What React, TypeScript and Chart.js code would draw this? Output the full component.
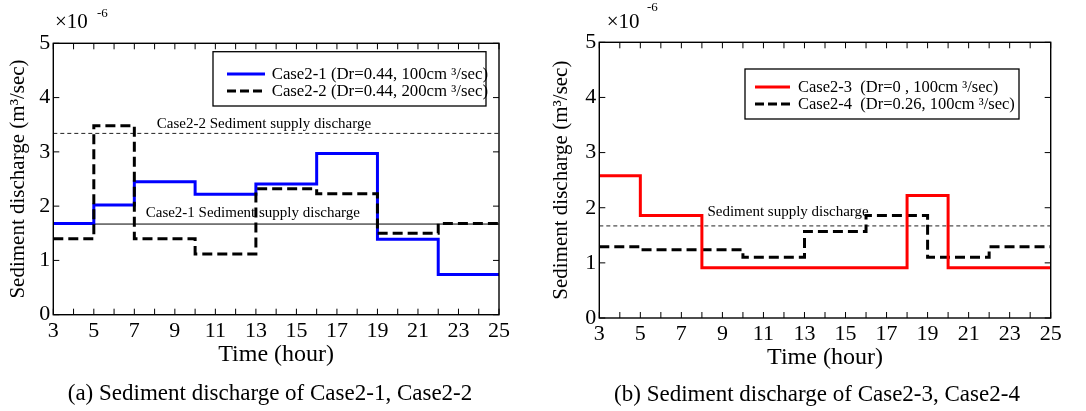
import React, { useEffect, useRef } from "react";
import { Chart, registerables } from "chart.js";

Chart.register(...registerables);

const FONT = '"Liberation Serif", "Times New Roman", serif';

// ---------- data ----------
const hoursCase21 = [3, 5, 7, 10, 13, 16, 19, 22, 25];
const case21Values = [1.68, 2.02, 2.45, 2.22, 2.41, 2.97, 1.39, 0.74];
const hoursCase22 = [3, 5, 7, 10, 13, 16, 19, 22, 25];
const case22Values = [1.4, 3.48, 1.4, 1.12, 2.32, 2.23, 1.5, 1.68];
const hoursCase23 = [3, 5, 8, 18, 20, 25];
const case23Values = [2.58, 1.86, 0.91, 2.22, 0.91];
const hoursCase24 = [3, 5, 10, 13, 16, 19, 22, 25];
const case24Values = [1.29, 1.24, 1.1, 1.57, 1.86, 1.1, 1.29];
const supplyCase21 = 1.67;
const supplyCase22 = 3.34;
const supplyPanelB = 1.67;
const timeRange = [3, 25];
const dischargeRange = [0, 5];
const xTickValues = [3, 5, 7, 9, 11, 13, 15, 17, 19, 21, 23, 25];
const yTickValues = [0, 1, 2, 3, 4, 5];

function stepPoints(breaks: number[], values: number[]) {
  return breaks.map((x, i) => ({ x, y: values[Math.min(i, values.length - 1)] }));
}
function flatLine(y: number) {
  return timeRange.map((x) => ({ x, y }));
}

type Spec = any;

const panelA: Spec = {
  layout: { top: 43.3, right: 44, yWidth: 53.3, xHeight: 96.3, yTitlePad: 5.4, xTitlePad: 41.6 },
  datasets: [
    { label: "Case2-2 (Dr=0.44, 200cm ³/sec)", data: stepPoints(hoursCase22, case22Values), borderColor: "#000", borderWidth: 3, borderDash: [10, 5], stepped: "before", order: 1 },
    { label: "Case2-1 (Dr=0.44, 100cm ³/sec)", data: stepPoints(hoursCase21, case21Values), borderColor: "#0000ff", borderWidth: 3, borderDash: [], stepped: "before", order: 2 },
    { label: "Case2-1 supply", data: flatLine(supplyCase21), borderColor: "#000", borderWidth: 1, borderDash: [], order: 3 },
    { label: "Case2-2 supply", data: flatLine(supplyCase22), borderColor: "#222", borderWidth: 1, borderDash: [4, 3], order: 3 },
  ],
  legend: { box: [213, 51.7, 486, 106], lineX: [227, 265], textX: 271.7, rowsY: [74, 91], fontSize: 16.8, items: [1, 0] },
  supplyLabels: [
    { text: "Case2-2 Sediment supply discharge", x: 13.4, value: supplyCase22, dy: -9.7 },
    { text: "Case2-1 Sediment supply discharge", x: 12.85, value: supplyCase21, dy: -11.2 },
  ],
  exponent: { x: 55, y: 22.7, supX: 97, supY: 13.5 },
  caption: { text: "(a) Sediment discharge of Case2-1, Case2-2", x: 270, y: 394 },
};

const panelB: Spec = {
  layout: { top: 42.3, right: 35.3, yWidth: 56.3, xHeight: 93, yTitlePad: 6.1, xTitlePad: 38.6 },
  datasets: [
    { label: "Case2-3  (Dr=0 , 100cm ³/sec)", data: stepPoints(hoursCase23, case23Values), borderColor: "#ff0000", borderWidth: 3, borderDash: [], stepped: "before", order: 1 },
    { label: "Case2-4  (Dr=0.26, 100cm ³/sec)", data: stepPoints(hoursCase24, case24Values), borderColor: "#000", borderWidth: 3, borderDash: [10, 5], stepped: "before", order: 2 },
    { label: "Supply", data: flatLine(supplyPanelB), borderColor: "#222", borderWidth: 1, borderDash: [4, 3], order: 3 },
  ],
  legend: { box: [202, 69, 476, 119], lineX: [212, 247], textX: 255, rowsY: [87, 104], fontSize: 16.5, items: [0, 1] },
  supplyLabels: [{ text: "Sediment supply discharge", x: 12.2, value: supplyPanelB, dy: -13.5 }],
  exponent: { x: 63.7, y: 22.7, supX: 104, supY: 7.5 },
  caption: { text: "(b) Sediment discharge of Case2-3, Case2-4", x: 274, y: 395 },
};

function makeDecor(spec: Spec) {
  return {
    id: "decor",
    afterDraw(chart: any) {
      const ctx = chart.ctx as CanvasRenderingContext2D;
      const { left, right, top, bottom } = chart.chartArea;
      const xs = chart.scales.x;
      const ys = chart.scales.y;
      ctx.save();
      ctx.strokeStyle = "#000";
      ctx.setLineDash([]);
      ctx.lineWidth = 1;
      const seg = (a: number, b: number, c: number, d: number) => {
        ctx.beginPath();
        ctx.moveTo(a, b);
        ctx.lineTo(c, d);
        ctx.stroke();
      };
      for (let h = timeRange[0]; h <= timeRange[1]; h++) {
        const px = xs.getPixelForValue(h);
        seg(px, bottom, px, bottom - 6);
        seg(px, top, px, top + 6);
      }
      for (const v of yTickValues) {
        const py = ys.getPixelForValue(v);
        seg(left, py, left + 6, py);
        seg(right, py, right - 6, py);
      }
      ctx.lineWidth = 1.4;
      ctx.strokeRect(left, top, right - left, bottom - top);

      // supply labels
      ctx.fillStyle = "#000";
      ctx.font = `15px ${FONT}`;
      ctx.textAlign = "center";
      ctx.textBaseline = "middle";
      for (const s of spec.supplyLabels) {
        ctx.fillText(s.text, xs.getPixelForValue(s.x), ys.getPixelForValue(s.value) + s.dy);
      }

      // legend
      const lg = spec.legend;
      const [bx0, by0, bx1, by1] = lg.box;
      ctx.fillStyle = "#fff";
      ctx.fillRect(bx0, by0, bx1 - bx0, by1 - by0);
      ctx.lineWidth = 1.3;
      ctx.strokeStyle = "#000";
      ctx.strokeRect(bx0, by0, bx1 - bx0, by1 - by0);
      ctx.font = `${lg.fontSize}px ${FONT}`;
      ctx.textAlign = "left";
      lg.items.forEach((di: number, i: number) => {
        const ds = chart.data.datasets[di];
        const y = lg.rowsY[i];
        ctx.strokeStyle = ds.borderColor;
        ctx.lineWidth = 3;
        ctx.setLineDash(ds.borderDash && ds.borderDash.length ? [9, 4] : []);
        seg(lg.lineX[0], y, lg.lineX[1], y);
        ctx.setLineDash([]);
        ctx.fillStyle = "#000";
        ctx.fillText(ds.label, lg.textX, y + 1);
      });

      // exponent
      const ex = spec.exponent;
      ctx.fillStyle = "#000";
      ctx.font = `21px ${FONT}`;
      ctx.textAlign = "left";
      ctx.fillText("×10", ex.x, ex.y);
      ctx.font = `13px ${FONT}`;
      ctx.fillText("-6", ex.supX, ex.supY);

      // caption
      ctx.font = `23px ${FONT}`;
      ctx.textAlign = "center";
      ctx.fillText(spec.caption.text, spec.caption.x, spec.caption.y);
      ctx.restore();
    },
  };
}

function buildConfig(spec: Spec): any {
  const L = spec.layout;
  return {
    type: "line",
    data: {
      datasets: spec.datasets.map((d: any) => ({
        ...d,
        pointRadius: 0,
        pointHoverRadius: 0,
        fill: false,
        tension: 0,
        borderCapStyle: "butt",
        borderJoinStyle: "miter",
      })),
    },
    options: {
      responsive: false,
      animation: false,
      events: [],
      layout: { padding: { top: L.top, right: L.right, bottom: 0, left: 0 } },
      plugins: { legend: { display: false }, tooltip: { enabled: false }, title: { display: false } },
      scales: {
        x: {
          type: "linear",
          min: timeRange[0],
          max: timeRange[1],
          afterBuildTicks: (s: any) => {
            s.ticks = xTickValues.map((value) => ({ value }));
          },
          afterFit: (s: any) => {
            s.height = L.xHeight;
          },
          grid: { display: false, drawTicks: false },
          border: { display: false },
          ticks: { font: { family: FONT, size: 22 }, color: "#000", padding: 3, maxRotation: 0, autoSkip: false },
          title: { display: true, text: "Time (hour)", color: "#000", font: { family: FONT, size: 24 }, padding: { top: 0, bottom: L.xTitlePad } },
        },
        y: {
          min: dischargeRange[0],
          max: dischargeRange[1],
          afterBuildTicks: (s: any) => {
            s.ticks = yTickValues.map((value) => ({ value }));
          },
          afterFit: (s: any) => {
            s.width = L.yWidth;
          },
          grid: { display: false, drawTicks: false },
          border: { display: false },
          ticks: { font: { family: FONT, size: 22 }, color: "#000", padding: 3 },
          title: { display: true, text: "Sediment discharge (m³/sec)", color: "#000", font: { family: FONT, size: 21 }, padding: { top: L.yTitlePad, bottom: 0 } },
        },
      },
    },
    plugins: [makeDecor(spec)],
  };
}

function Panel({ spec, left }: { spec: Spec; left: number }) {
  const ref = useRef<HTMLCanvasElement>(null);
  useEffect(() => {
    if (!ref.current) return;
    const chart = new Chart(ref.current, buildConfig(spec));
    return () => chart.destroy();
  }, [spec]);
  return (
    <canvas
      ref={ref}
      width={543}
      height={411}
      style={{ position: "absolute", left, top: 0, width: 543, height: 411 }}
    />
  );
}

export default function App() {
  return (
    <div style={{ position: "absolute", left: 0, top: 0, width: 1086, height: 411, background: "#fff", overflow: "hidden" }}>
      <Panel spec={panelA} left={0} />
      <Panel spec={panelB} left={543} />
    </div>
  );
}
